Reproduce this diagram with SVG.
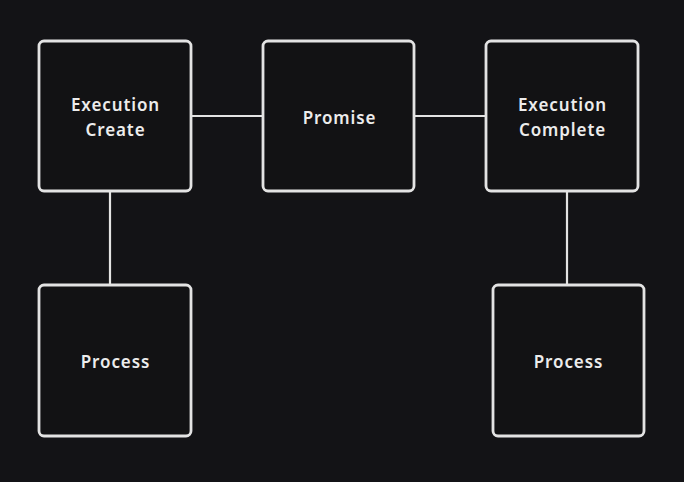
<svg xmlns="http://www.w3.org/2000/svg" width="684" height="482" viewBox="0 0 684 482">
<style>
.box{fill:#121214;stroke:#e3e3e3;stroke-width:2.8}
.lbl{font-family:"Noto Sans","Open Sans",sans-serif;font-size:17px;font-weight:600;fill:#ececec;text-anchor:middle;dominant-baseline:central;letter-spacing:0.9px}
.conn{stroke:#e3e3e3;stroke-width:2.2;fill:none}
</style>
<rect width="684" height="482" fill="#131316"/>
<g id="connectors">
<line class="conn" x1="191" y1="116" x2="263" y2="116"/>
<line class="conn" x1="414" y1="116" x2="486" y2="116"/>
<line class="conn" x1="110" y1="191" x2="110" y2="285"/>
<line class="conn" x1="567" y1="192" x2="567" y2="285"/>
</g>
<g id="exec-create">
<rect class="box" x="39" y="41" width="152" height="150" rx="5"/>
<text class="lbl" x="115.5" y="104">Execution</text>
<text class="lbl" x="115.5" y="129">Create</text>
</g>
<g id="promise">
<rect class="box" x="263" y="41" width="151" height="150" rx="5"/>
<text class="lbl" x="339.5" y="117">Promise</text>
</g>
<g id="exec-complete">
<rect class="box" x="486" y="41" width="152" height="150" rx="5"/>
<text class="lbl" x="562.5" y="104">Execution</text>
<text class="lbl" x="562.5" y="129">Complete</text>
</g>
<g id="process-left">
<rect class="box" x="39" y="285" width="152" height="151" rx="5"/>
<text class="lbl" x="115.5" y="361">Process</text>
</g>
<g id="process-right">
<rect class="box" x="493" y="285" width="151" height="151" rx="5"/>
<text class="lbl" x="568.5" y="361">Process</text>
</g>
</svg>
